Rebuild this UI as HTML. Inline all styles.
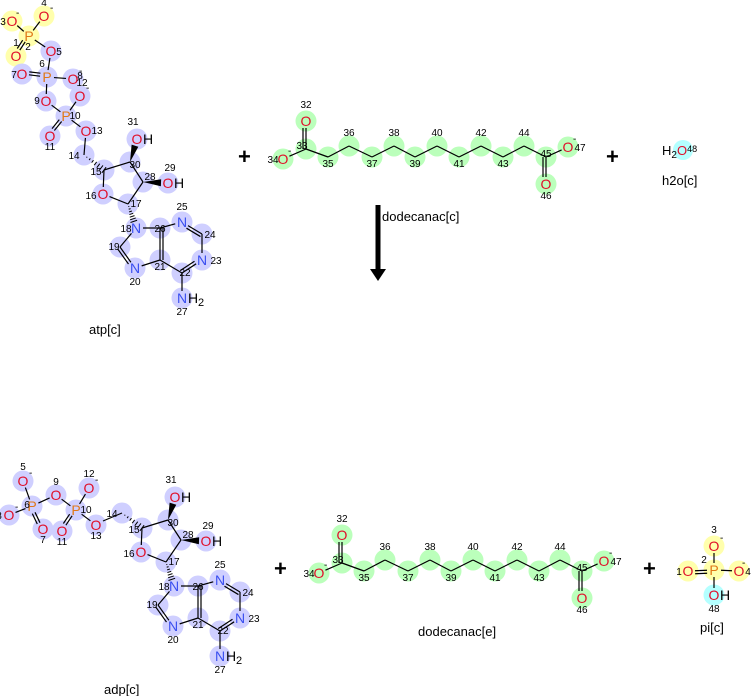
<!DOCTYPE html>
<html><head><meta charset="utf-8"><style>
html,body{margin:0;padding:0;background:#fff;}
svg{display:block;font-family:"Liberation Sans","DejaVu Sans",sans-serif;}
</style></head><body>
<svg id="s" width="751" height="696" viewBox="0 0 751 696" xmlns="http://www.w3.org/2000/svg">
<g id="bg"></g><g id="bd"></g><g id="tx"></g>
<g font-size="13" fill="#000">
<text x="89" y="334">atp[c]</text>
<text x="382" y="221">dodecanac[c]</text>
<text x="662" y="185">h2o[c]</text>
<text x="104" y="694">adp[c]</text>
<text x="418" y="636">dodecanac[e]</text>
<text x="700" y="632">pi[c]</text>
</g>
<g font-size="22" font-weight="bold" fill="#000">
<text x="238" y="164">+</text><text x="606" y="164">+</text>
<text x="274" y="576">+</text><text x="643" y="576">+</text>
</g>
<rect x="375.5" y="205" width="5" height="66" fill="#000"/>
<polygon points="370,269 386,269 378,281" fill="#000"/>
<circle cx="683" cy="150" r="10" fill="#b4ffff"/>
<text x="662" y="155" font-size="13">H<tspan font-size="10" dy="3">2</tspan><tspan dy="-3" fill="#e0102a">O</tspan><tspan font-size="9" dy="-3">48</tspan></text>
</svg>
<script>
const NS="http://www.w3.org/2000/svg";
const bg=document.getElementById('bg'),bd=document.getElementById('bd'),tx=document.getElementById('tx');
const COL={b:'#cfcfff',y:'#ffffac',g:'#bbffbb',c:'#b4ffff'};
const LC={O:'#e0102a',N:'#3a4ff0',P:'#e07818',C:'#000'};
function el(p,t,a,txt){const e=document.createElementNS(NS,t);for(const k in a)e.setAttribute(k,a[k]);if(txt!==undefined)e.textContent=txt;p.appendChild(e);return e;}
function mol(atoms,bonds,dx,dy){
 const A={};
 for(const a of atoms){const [id,x0,y0,lab,col,nx,ny,suf,sdx]=a;const x=x0+dx,y=y0+dy;A[id]={x,y,lab};
  el(bg,'circle',{cx:x,cy:y,r:10.5,fill:COL[col]});
  if(lab){el(tx,'text',{x:x,y:y+5,'font-size':14,'text-anchor':'middle',fill:LC[lab[0]]},lab[0]);
   if(lab.length>1){el(tx,'text',{x:x+6,y:y+5,'font-size':14,fill:'#000'},'H');if(lab==='NH2')el(tx,'text',{x:x+16,y:y+8,'font-size':11,fill:'#000'},'2');}
  }
  el(tx,'text',{x:x+nx,y:y+ny,'font-size':10,'text-anchor':'middle',fill:'#000'},String(id));
  if(suf)el(tx,'text',{x:x+(sdx||6),y:y-5,'font-size':10,fill:'#000'},'-');
 }
 for(const b of bonds){const [i,j,t]=b;let p=A[i],q=A[j];let vx=q.x-p.x,vy=q.y-p.y,L=Math.hypot(vx,vy);let ux=vx/L,uy=vy/L;
  let s1=p.lab?7:0,s2=q.lab?7:0;let x1=p.x+ux*s1,y1=p.y+uy*s1,x2=q.x-ux*s2,y2=q.y-uy*s2;
  if(t==='w'){const nx=-uy*3.5,ny=ux*3.5;el(bd,'polygon',{points:`${x1},${y1} ${x2+nx},${y2+ny} ${x2-nx},${y2-ny}`,fill:'#000'});continue;}
  if(t==='h'){for(let k=1;k<=7;k++){const f=k/7;const xx=x1+vx*f*(L-s1-s2)/L,yy=y1+vy*f*(L-s1-s2)/L;const w=3.5*f;el(bd,'line',{x1:xx-uy*w,y1:yy+ux*w,x2:xx+uy*w,y2:yy-ux*w,stroke:'#000','stroke-width':1});}continue;}
  el(bd,'line',{x1,y1,x2,y2,stroke:'#000','stroke-width':1.2});
  if(t===2){const o=3;el(bd,'line',{x1:x1-uy*o,y1:y1+ux*o,x2:x2-uy*o,y2:y2+ux*o,stroke:'#000','stroke-width':1.2});}
 }
}
const nuc=[[14,84,155,'','b',-10,4],[15,104,170,'','b',-8,5],[30,130,162,'','b',5,6],[31,137,139,'OH','b',-4,-14],
[28,143,182,'','b',7,-2],[29,168,183,'OH','b',2,-12],[16,103,194,'O','b',-12,5],[17,128,204,'','b',8,3],
[18,136,228,'N','b',-10,4],[26,160,228,'','b',0,4],[25,182,222,'N','b',0,-12],[24,202,234,'','b',8,4],
[23,202,260,'N','b',14,4],[22,182,273,'','b',3,3],[21,160,260,'','b',0,10],[20,135,268,'N','b',0,17],
[19,120,247,'','b',-6,3],[27,182,298,'NH2','b',0,17]];
const nucB=[[14,15,'h'],[15,30],[30,31,'w'],[30,28],[28,29,'w'],[28,17],[17,16],[16,15],[17,18,'h'],[18,26],[18,19],[19,20,2],[20,21],[21,26,2],[26,25],[25,24,2],[24,23],[23,22,2],[22,21],[22,27]];
const atpP=[[3,12,21,'O','y',-9,4,1,4],[4,44,16,'O','y',0,-10,1],[2,29,36,'P','y',-1,14],[1,16,56,'O','y',0,-10],
[5,51,51,'O','b',8,4],[6,47,77,'P','b',-5,-10],[7,22,74,'O','b',-8,4],[8,73,79,'O','b',7,0,1],
[12,80,96,'O','b',2,-10,1],[9,46,101,'O','b',-9,3],[10,66,116,'P','b',9,3],[11,50,136,'O','b',0,14],[13,86,131,'O','b',11,3]];
const atpPB=[[3,2],[4,2],[2,1,2],[2,5],[5,6],[6,7,2],[6,8],[6,9],[9,10],[10,12],[10,11,2],[10,13],[13,14]];
mol(atpP.concat(nuc),atpPB.concat(nucB),0,0);
const adpP=[[5,23,481,'O','b',0,-11,1],[6,32,506,'P','b',-5,2],[8,9,515,'O','b',-10,4,1,6],[7,43,529,'O','b',0,14],
[9,56,495,'O','b',0,-10],[10,76,510,'P','b',10,3],[12,89,488,'O','b',0,-11,1],[11,62,531,'O','b',0,14],[13,96,525,'O','b',0,14]];
const adpPB=[[5,6],[8,6],[6,7,2],[6,9],[9,10],[10,12],[10,11,2],[10,13]];
mol(adpP,adpPB,0,0);
mol(nuc.map(a=>a.slice()),nucB,38,358);
el(bd,'line',{x1:103,y1:521,x2:122,y2:513,stroke:'#000','stroke-width':1.2});
const dd=[[32,306,121,'O','g',0,-13],[33,306,149,'','g',-4,0],[34,283,159,'O','g',-10,4,1,5],[35,328,157,'','g',0,10],
[36,349,146,'','g',0,-10],[37,372,157,'','g',0,10],[38,394,146,'','g',0,-10],[39,415,157,'','g',0,10],
[40,437,146,'','g',0,-10],[41,459,157,'','g',0,10],[42,481,146,'','g',0,-10],[43,503,157,'','g',0,10],
[44,524,146,'','g',0,-10],[45,546,157,'','g',0,0],[47,568,147,'O','g',12,4,1,5],[46,546,184,'O','g',0,15]];
const ddB=[[32,33,2],[33,34],[33,35],[35,36],[36,37],[37,38],[38,39],[39,40],[40,41],[41,42],[42,43],[43,44],[44,45],[45,47],[45,46,2]];
mol(dd,ddB,0,0);mol(dd.map(a=>a.slice()),ddB,36,414);
const pi=[[3,714,546,'O','y',0,-13,1],[2,714,570,'P','y',-10,-7],[1,688,571,'O','y',-9,4],[4,739,571,'O','y',9,4,1,3],[48,714,595,'OH','c',0,17]];
mol(pi,[[3,2],[1,2,2],[2,4],[2,48]],0,0);
</script>
</body></html>
